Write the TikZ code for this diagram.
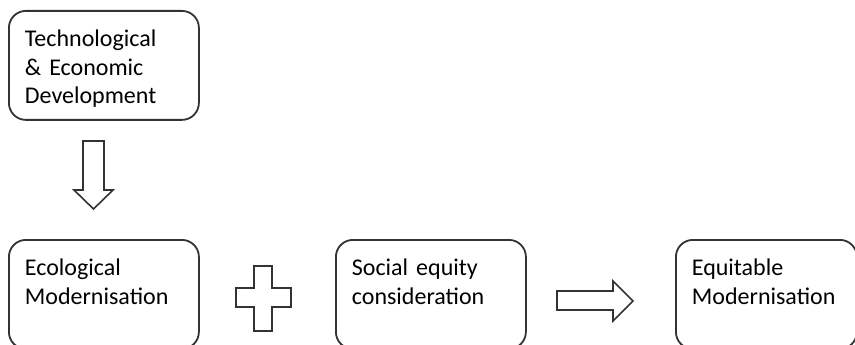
\documentclass[tikz,border=0pt]{standalone}
\usepackage{fontspec}
\setmainfont{Carlito}
\usepackage{tikz}
\usetikzlibrary{positioning}

\tikzset{
  stage/.style={draw=black!80, line width=1.8pt, rounded corners=17pt,
    anchor=north west, align=left, inner xsep=16pt, inner ysep=8pt,
    text width=158pt, text height=28pt, text depth=65pt,
    font=\fontsize{24}{28.5}\selectfont},
  blockarrow/.style={draw=black!80, line width=1.6pt, fill=white, line join=miter}
}

\begin{document}
\begin{tikzpicture}[x=1pt,y=-1pt]
\useasboundingbox (0,0) rectangle (855,345);

% boxes
\node[stage] (tech) at (8,10) {Technological\\\& Economic\\Development};
\node[stage] (eco) at (8,239) {Ecological\\Modernisation};
\node[stage] (social) at (335,239) {Social equity\\consideration};
\node[stage, text width=149pt] (equit) at (675,239) {Equitable\\Modernisation};

% down arrow
\draw[blockarrow] (83,141) -- (104,141) -- (104,190) -- (113,190) -- (93.5,209)
  -- (74,190) -- (83,190) -- cycle;

% plus
\draw[blockarrow] (254,266) -- (272,266) -- (272,288) -- (291,288) -- (291,307)
  -- (272,307) -- (272,331) -- (254,331) -- (254,307) -- (236,307) -- (236,288)
  -- (254,288) -- cycle;

% right arrow
\draw[blockarrow] (557,291) -- (613,291) -- (613,281) -- (633,301) -- (613,321)
  -- (613,310) -- (557,310) -- cycle;

\end{tikzpicture}
\end{document}
